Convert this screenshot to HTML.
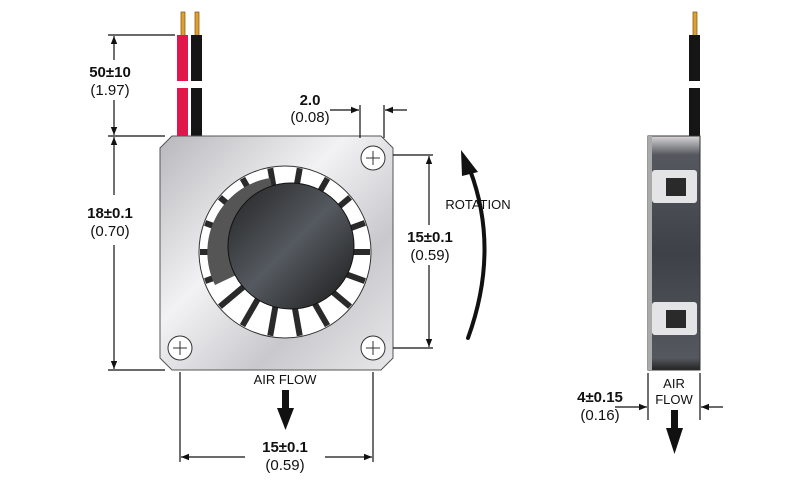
<!DOCTYPE html>
<html><head><style>
body{margin:0;background:#fff;width:800px;height:486px;overflow:hidden}
svg{display:block}
text{font-family:"Liberation Sans",sans-serif;fill:#111}
.b{font-weight:bold;font-size:15px}
.n{font-size:15px}
</style></head><body>
<svg width="800" height="486" viewBox="0 0 800 486">
<defs>
<linearGradient id="plate" x1="0" y1="0" x2="1" y2="1">
<stop offset="0" stop-color="#b8b8bc"/><stop offset="0.4" stop-color="#f2f2f4"/><stop offset="0.7" stop-color="#c9c9cd"/><stop offset="1" stop-color="#e8e8ea"/>
</linearGradient>
<linearGradient id="hub" x1="0" y1="0" x2="1" y2="1">
<stop offset="0" stop-color="#222"/><stop offset="0.5" stop-color="#555a60"/><stop offset="1" stop-color="#1a1a1a"/>
</linearGradient>
<linearGradient id="side" x1="0" y1="0" x2="0" y2="1">
<stop offset="0" stop-color="#d8d8da"/><stop offset="0.08" stop-color="#55585e"/><stop offset="0.5" stop-color="#3e4148"/><stop offset="0.95" stop-color="#55585e"/><stop offset="1" stop-color="#222"/>
</linearGradient>
<marker id="ar" viewBox="0 0 10 10" refX="10" refY="5" markerWidth="11" markerHeight="8" orient="auto-start-reverse" markerUnits="userSpaceOnUse"><path d="M0,1 L10,5 L0,9z" fill="#111"/></marker>
</defs>
<rect x="181" y="12" width="4" height="24" fill="#e0a030" stroke="#7a5010" stroke-width="0.7"/>
<rect x="195" y="12" width="4" height="24" fill="#e0a030" stroke="#7a5010" stroke-width="0.7"/>
<rect x="177" y="35" width="11" height="46" fill="#e0174a"/><rect x="191" y="35" width="11" height="46" fill="#151515"/>
<rect x="177" y="88" width="11" height="50" fill="#e0174a"/><rect x="191" y="88" width="11" height="50" fill="#151515"/>
<path d="M172,136 H381 L393,148 V358 L381,370 H172 L160,358 V148 Z" fill="url(#plate)" stroke="#555" stroke-width="1"/>
<circle cx="285" cy="252" r="86" fill="#fff" stroke="#333" stroke-width="1"/>
<g stroke="#2a2a2a" stroke-width="6">
<line x1="285" y1="252" x2="285" y2="167" transform="rotate(10 285 252)"/>
<line x1="285" y1="252" x2="285" y2="167" transform="rotate(30 285 252)"/>
<line x1="285" y1="252" x2="285" y2="167" transform="rotate(50 285 252)"/>
<line x1="285" y1="252" x2="285" y2="167" transform="rotate(70 285 252)"/>
<line x1="285" y1="252" x2="285" y2="167" transform="rotate(90 285 252)"/>
<line x1="285" y1="252" x2="285" y2="167" transform="rotate(110 285 252)"/>
<line x1="285" y1="252" x2="285" y2="167" transform="rotate(130 285 252)"/>
<line x1="285" y1="252" x2="285" y2="167" transform="rotate(150 285 252)"/>
<line x1="285" y1="252" x2="285" y2="167" transform="rotate(170 285 252)"/>
<line x1="285" y1="252" x2="285" y2="167" transform="rotate(190 285 252)"/>
<line x1="285" y1="252" x2="285" y2="167" transform="rotate(210 285 252)"/>
<line x1="285" y1="252" x2="285" y2="167" transform="rotate(230 285 252)"/>
<line x1="285" y1="252" x2="285" y2="167" transform="rotate(250 285 252)"/>
<line x1="285" y1="252" x2="285" y2="167" transform="rotate(270 285 252)"/>
<line x1="285" y1="252" x2="285" y2="167" transform="rotate(290 285 252)"/>
<line x1="285" y1="252" x2="285" y2="167" transform="rotate(310 285 252)"/>
<line x1="285" y1="252" x2="285" y2="167" transform="rotate(330 285 252)"/>
<line x1="285" y1="252" x2="285" y2="167" transform="rotate(350 285 252)"/>
</g>
<path d="M215,285 A75,75 0 0 1 270,178 L285,252Z" fill="#555"/>
<circle cx="291" cy="246" r="63" fill="url(#hub)" stroke="#111"/>
<g fill="#fff" stroke="#333">
<circle cx="373" cy="158" r="12"/><circle cx="180" cy="348" r="12"/><circle cx="373" cy="348" r="12"/>
</g>
<g stroke="#333" stroke-width="1">
<path d="M366,158h14M373,151v14M173,348h14M180,341v14M366,348h14M373,341v14"/>
</g>
<g stroke="#111" stroke-width="1.2" fill="none">
<path d="M108,35H175M108,136H165M108,370H165"/>
<line x1="114" y1="60" x2="114" y2="36" marker-end="url(#ar)"/>
<line x1="114" y1="100" x2="114" y2="135" marker-end="url(#ar)"/>
<line x1="114" y1="195" x2="114" y2="137" marker-end="url(#ar)"/>
<line x1="114" y1="245" x2="114" y2="369" marker-end="url(#ar)"/>
<path d="M360,105V138M384,105V138"/>
<line x1="330" y1="110" x2="359" y2="110" marker-end="url(#ar)"/>
<line x1="407" y1="110" x2="385" y2="110" marker-end="url(#ar)"/>
<path d="M393,155H433M393,348H433"/>
<line x1="429" y1="225" x2="429" y2="156" marker-end="url(#ar)"/>
<line x1="429" y1="265" x2="429" y2="347" marker-end="url(#ar)"/>
<path d="M180,372V462M373,372V462"/>
<line x1="245" y1="457" x2="181" y2="457" marker-end="url(#ar)"/>
<line x1="325" y1="457" x2="372" y2="457" marker-end="url(#ar)"/>
<path d="M648,373V420M700,373V420"/>
<line x1="615" y1="407" x2="647" y2="407" marker-end="url(#ar)"/>
<line x1="723" y1="407" x2="701" y2="407" marker-end="url(#ar)"/>
</g>
<text class="b" x="110" y="77" text-anchor="middle">50±10</text>
<text class="n" x="110" y="95" text-anchor="middle">(1.97)</text>
<text class="b" x="110" y="218" text-anchor="middle">18±0.1</text>
<text class="n" x="110" y="236" text-anchor="middle">(0.70)</text>
<text class="b" x="310" y="105" text-anchor="middle">2.0</text>
<text class="n" x="310" y="122" text-anchor="middle">(0.08)</text>
<text class="b" x="430" y="242" text-anchor="middle">15±0.1</text>
<text class="n" x="430" y="260" text-anchor="middle">(0.59)</text>
<text x="478" y="209" text-anchor="middle" font-size="13">ROTATION</text>
<path d="M468,338 Q500,250 470,170" stroke="#111" stroke-width="4" fill="none" stroke-linecap="round"/>
<path d="M461,150 L478,172 L462,176Z" fill="#111"/>
<text x="285" y="384" text-anchor="middle" font-size="13">AIR FLOW</text>
<rect x="282" y="390" width="7" height="20" fill="#111"/><path d="M277,408H294L285.5,430Z" fill="#111"/>
<text class="b" x="285" y="452" text-anchor="middle">15±0.1</text>
<text class="n" x="285" y="470" text-anchor="middle">(0.59)</text>
<rect x="693" y="12" width="4" height="24" fill="#e0a030" stroke="#7a5010" stroke-width="0.7"/>
<rect x="689" y="35" width="11" height="46" fill="#151515"/><rect x="689" y="88" width="11" height="50" fill="#151515"/>
<rect x="648" y="136" width="52" height="234" fill="url(#side)" stroke="#333"/>
<rect x="648" y="136" width="4" height="234" fill="#aaa"/>
<rect x="652" y="170" width="45" height="33" rx="3" fill="#e4e4e6"/><rect x="666" y="178" width="20" height="18" fill="#2a2a2a"/>
<rect x="652" y="302" width="45" height="33" rx="3" fill="#e4e4e6"/><rect x="666" y="310" width="20" height="18" fill="#2a2a2a"/>
<text x="674" y="388" text-anchor="middle" font-size="13">AIR</text>
<text x="674" y="404" text-anchor="middle" font-size="13">FLOW</text>
<rect x="671" y="410" width="7" height="20" fill="#111"/><path d="M666,428H683L674.5,454Z" fill="#111"/>
<text class="b" x="600" y="402" text-anchor="middle">4±0.15</text>
<text class="n" x="600" y="420" text-anchor="middle">(0.16)</text>
</svg>
</body></html>
